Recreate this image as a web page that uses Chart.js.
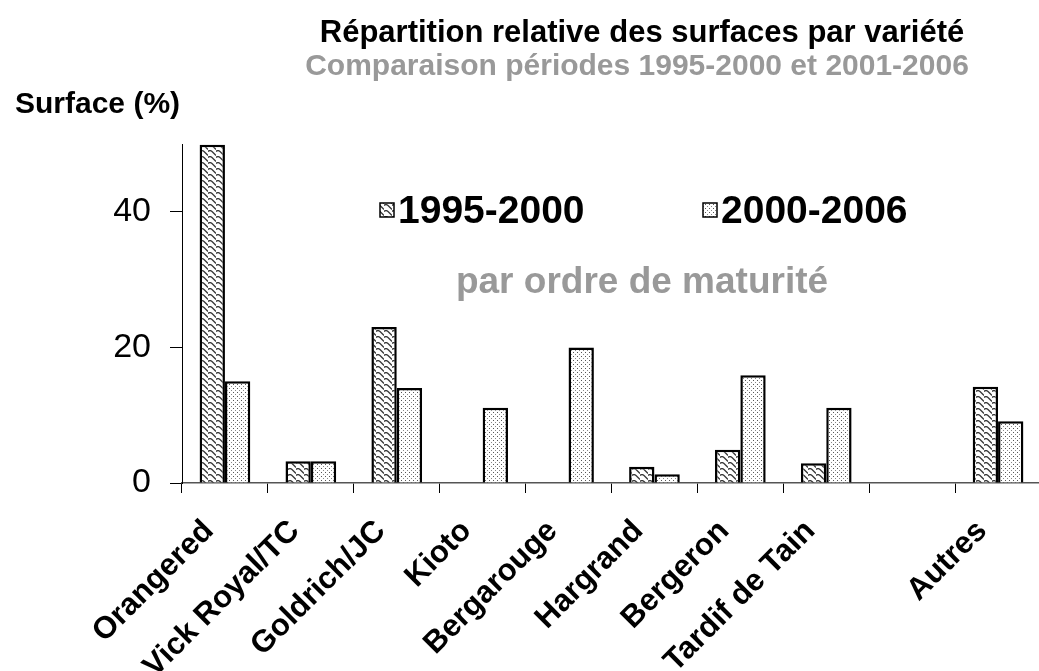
<!DOCTYPE html>
<html lang="fr">
<head>
  <meta charset="UTF-8">
  <title>Répartition relative des surfaces par variété</title>
  <script src="https://cdn.jsdelivr.net/npm/chart.js"></script>
  <style>
    html, body { margin: 0; padding: 0; background: #fff; overflow: hidden; }
    .chart-container { position: absolute; left: 0; top: 0; width: 1050px; height: 671px; }
  </style>
</head>
<body>
  <div class="chart-container">
    <canvas id="barChart"></canvas>
  </div>

  <script>
    // Data
    const varieties = ['Orangered', 'Vick Royal/TC', 'Goldrich/JC', 'Kioto', 'Bergarouge',
                       'Hargrand', 'Bergeron', 'Tardif de Tain', '', 'Autres'];
    const period1 = [49.9, 3.2, 23.0, null, null, 2.4, 4.9, 2.9, null, 14.2];
    const period2 = [15.0, 3.2, 14.0, 11.1, 20.0, 1.3, 15.9, 11.1, null, 9.1];
    const yTicks = [0, 20, 40];

    const FONT = '"Liberation Sans", Arial, sans-serif';

    // Fill patterns
    function wavePattern() {
      const c = document.createElement('canvas');
      c.width = 8; c.height = 6;
      const g = c.getContext('2d');
      g.fillStyle = '#fff';
      g.fillRect(0, 0, 8, 6);
      g.strokeStyle = '#3a3a3a';
      g.lineWidth = 1.3;
      g.beginPath();
      g.moveTo(0, 1.5);
      g.quadraticCurveTo(2, -0.5, 4, 1.5);
      g.lineTo(8, 5.5);
      g.stroke();
      g.beginPath();
      g.moveTo(-4, 1.5 + 4);
      g.lineTo(0, 5.5 + 4);
      g.stroke();
      return g.createPattern(c, 'repeat');
    }

    function dotPattern() {
      const c = document.createElement('canvas');
      c.width = 4; c.height = 4;
      const g = c.getContext('2d');
      g.fillStyle = '#fff';
      g.fillRect(0, 0, 4, 4);
      g.fillStyle = '#555';
      g.fillRect(1, 0, 1, 1);
      g.fillStyle = '#888';
      g.fillRect(3, 2, 1, 1);
      return g.createPattern(c, 'repeat');
    }

    const fill1 = wavePattern();
    const fill2 = dotPattern();

    // Texts drawn at fixed places
    const overlay = {
      id: 'overlay',
      afterDraw(chart) {
        const ctx = chart.ctx;
        ctx.save();
        ctx.textBaseline = 'middle';

        ctx.textAlign = 'center';
        ctx.fillStyle = '#000';
        ctx.font = 'bold 31px ' + FONT;
        ctx.fillText('Répartition relative des surfaces par variété', 642, 33);
        ctx.font = 'bold 30px ' + FONT;
        ctx.fillStyle = '#999';
        ctx.fillText('Comparaison périodes 1995-2000 et 2001-2006', 637, 67);

        ctx.textAlign = 'left';
        ctx.fillStyle = '#000';
        ctx.fillText('Surface (%)', 15, 105);

        // legend
        const items = [[fill1, '1995-2000', 380], [fill2, '2000-2006', 703]];
        ctx.font = 'bold 39px ' + FONT;
        items.forEach(([p, label, x]) => {
          ctx.fillStyle = p;
          ctx.fillRect(x, 203, 14, 14);
          ctx.strokeStyle = '#000';
          ctx.lineWidth = 1.5;
          ctx.strokeRect(x, 203, 14, 14);
          ctx.fillStyle = '#000';
          ctx.fillText(label, x + 18, 212);
        });

        ctx.textAlign = 'center';
        ctx.fillStyle = '#999';
        ctx.font = 'bold 37px ' + FONT;
        ctx.fillText('par ordre de maturité', 642, 283);
        ctx.restore();
      }
    };

    const barCtx = document.getElementById('barChart').getContext('2d');
    const barChart = new Chart(barCtx, {
      type: 'bar',
      data: {
        labels: varieties,
        datasets: [
          {
            label: '1995-2000',
            data: period1,
            backgroundColor: fill1,
            borderColor: '#000',
            borderWidth: 2.5
          },
          {
            label: '2000-2006',
            data: period2,
            backgroundColor: fill2,
            borderColor: '#000',
            borderWidth: 2.5
          }
        ]
      },
      options: {
        responsive: true,
        maintainAspectRatio: false,
        animation: false,
        layout: { padding: { top: 144, right: 9, left: 0, bottom: 0 } },
        categoryPercentage: 0.59,
        barPercentage: 1,
        plugins: {
          legend: { display: false },
          tooltip: { enabled: false }
        },
        scales: {
          x: {
            afterFit(s) { s.height = 188; },
            grid: { drawOnChartArea: false, drawTicks: true, tickLength: 10, color: '#000' },
            border: { display: true, color: '#555', width: 1.5 },
            ticks: {
              color: '#000',
              font: { family: FONT, size: 31, weight: 'bold' },
              minRotation: 45,
              maxRotation: 45,
              autoSkip: false,
              labelOffset: -16,
              padding: 20
            }
          },
          y: {
            min: 0,
            max: 50,
            afterFit(s) { s.width = 182; },
            afterBuildTicks(s) { s.ticks = yTicks.map(v => ({ value: v })); },
            grid: { drawOnChartArea: false, drawTicks: true, tickLength: 12, color: '#000' },
            border: { display: true, color: '#000', width: 1 },
            ticks: {
              color: '#000',
              font: { family: FONT, size: 34 },
              padding: 19
            }
          }
        }
      },
      plugins: [overlay]
    });
  </script>
</body>
</html>
